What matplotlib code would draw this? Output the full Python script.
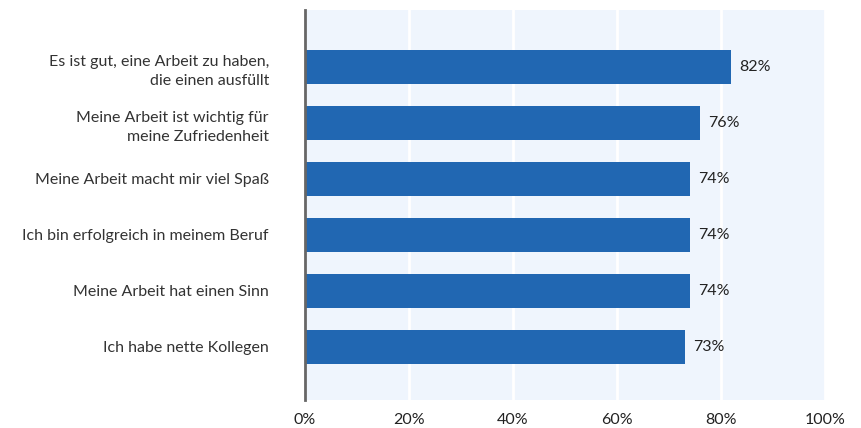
import numpy as np
import matplotlib.pyplot as plt

# Daten
kategorien = [
    "Es ist gut, eine Arbeit zu haben,\ndie einen ausfüllt",
    "Meine Arbeit ist wichtig für\nmeine Zufriedenheit",
    "Meine Arbeit macht mir viel Spaß",
    "Ich bin erfolgreich in meinem Beruf",
    "Meine Arbeit hat einen Sinn",
    "Ich habe nette Kollegen",
]
werte = [82, 76, 74, 74, 74, 73]
x_ticks = [0, 20, 40, 60, 80, 100]
x_ticklabels = ["0%", "20%", "40%", "60%", "80%", "100%"]

plt.rcParams['font.family'] = ['Lato', 'DejaVu Sans']

fig = plt.figure(figsize=(8.62, 4.28), dpi=100)
ax = fig.add_axes([305 / 862, 1 - 400 / 428, 520 / 862, 390 / 428])
ax.set_facecolor('#eff5fd')

y = np.arange(len(kategorien))
bars = ax.barh(y, werte, height=0.6, color='#2167b2', zorder=3)

for b, v in zip(bars, werte):
    ax.text(b.get_width() + 1.6, b.get_y() + b.get_height() / 2, f"{v}%",
            va='center', ha='left', fontsize=11.5, color='#222222', zorder=4)

ax.set_xlim(0, 100)
ax.set_ylim(5.95, -1.02)
ax.set_xticks(x_ticks)
ax.set_xticklabels(x_ticklabels, fontsize=11.5, color='#222222')
ax.set_yticks(y)
ax.set_yticklabels(kategorien, fontsize=11.5, color='#333333', linespacing=1.5)
ax.tick_params(axis='y', length=0, pad=26)
ax.tick_params(axis='x', length=0, pad=9)

ax.grid(axis='x', color='white', linewidth=2, zorder=1)
for s in ['top', 'right', 'bottom']:
    ax.spines[s].set_visible(False)
ax.spines['left'].set_color('#666666')
ax.spines['left'].set_linewidth(2)
ax.spines['left'].set_zorder(5)

plt.savefig("out.png", dpi=100)
